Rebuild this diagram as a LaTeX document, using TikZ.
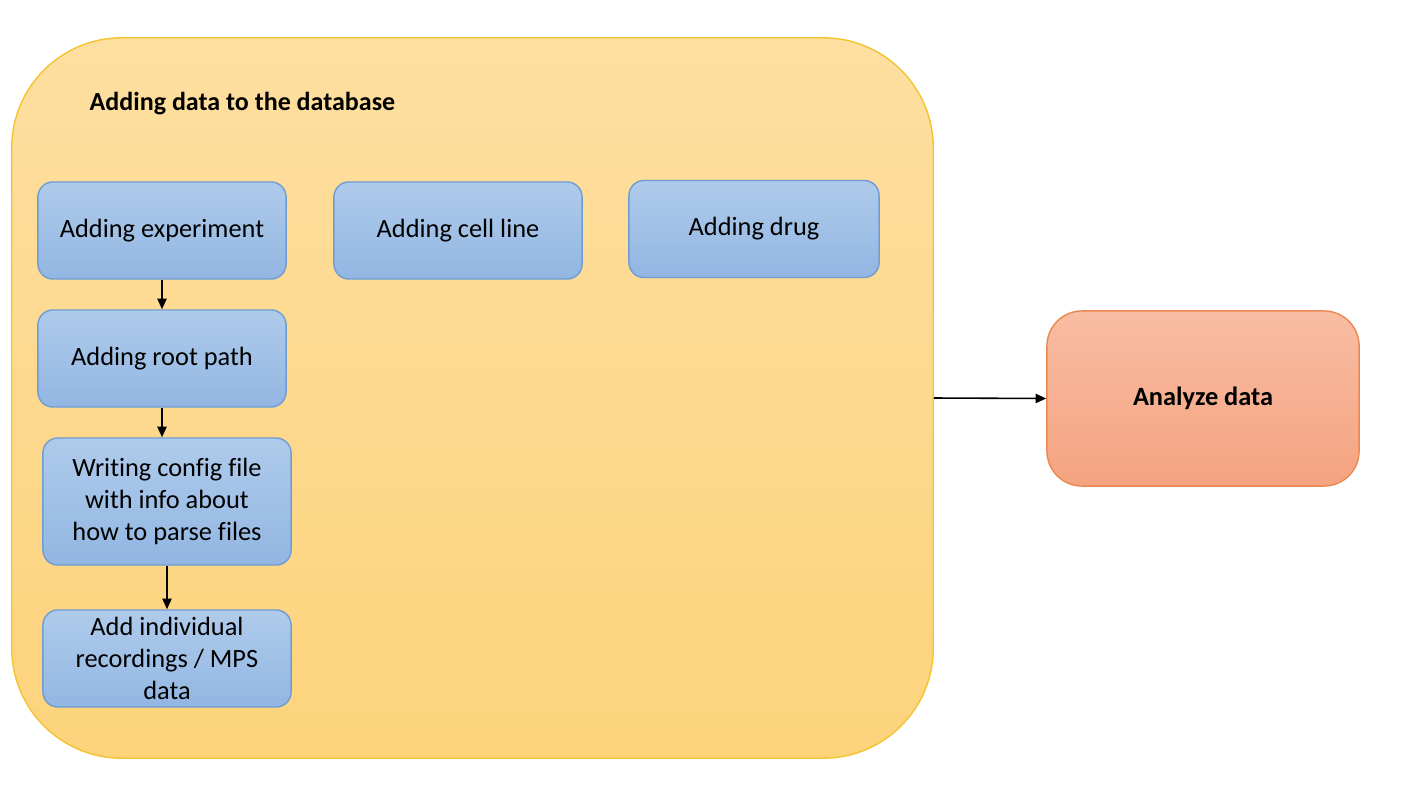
\documentclass[tikz,border=0pt]{standalone}
\usepackage{fontspec}
\setmainfont{Carlito}[Ligatures=NoCommon]
\usetikzlibrary{positioning,arrows.meta}
\definecolor{boxtop}{HTML}{AFCBEB}
\definecolor{boxbot}{HTML}{92B6E2}
\definecolor{boxline}{HTML}{6F9DD3}
\definecolor{dbtop}{HTML}{FDDFA0}
\definecolor{dbbot}{HTML}{FDD37C}
\definecolor{dbline}{HTML}{F4C330}
\definecolor{antop}{HTML}{F8BDA3}
\definecolor{anbot}{HTML}{F5A380}
\definecolor{anline}{HTML}{EA8850}

\begin{document}
\begin{tikzpicture}[x=0.01cm,y=-0.01cm,%
	   database/.style={draw=dbline,top color=dbtop,bottom color=dbbot,rounded corners=1.1cm,
	      minimum width=9.21cm,minimum height=7.2cm,inner sep=0pt},
	   stage/.style={draw=boxline,top color=boxtop,bottom color=boxbot,rounded corners=0.15cm,
	      minimum width=2.48cm,minimum height=0.97cm,align=center,inner sep=1pt,
	      font=\fontsize{7.5}{9}\selectfont},
	   result/.style={draw=anline,top color=antop,bottom color=anbot,rounded corners=0.35cm,
	      minimum width=3.12cm,minimum height=1.75cm,font=\fontsize{7.5}{9}\selectfont\bfseries},
	   flow/.style={-{Triangle[length=3pt,width=2.6pt]},line width=0.45pt,black}]

	\useasboundingbox (0,0) rectangle (1401,788);

	\node[database] (db) at (472.5,398) {};
	\node[anchor=west,inner sep=0pt,font=\fontsize{7.4}{9}\selectfont\bfseries] (title) at (89,104)
	   {Adding data to the database};

	\node[stage] (experiment) at (162,230.5) {Adding experiment};
	\node[stage] (rootpath) at (162,358.5) {Adding root path};
	\node[stage,minimum height=1.27cm] (config) at (167,501.5)
	   {Writing config file\\with info about\\how to parse files};
	\node[stage] (recordings) at (167,658.5) {Add individual\\recordings / MPS\\data};
	\node[stage] (cellline) at (458,230.5) {Adding cell line};
	\node[stage,minimum width=2.5cm] (drug) at (754,229) {Adding drug};

	\node[result] (analyze) at (1203,398.5) {Analyze data};

	\draw[flow] (experiment) -- (rootpath);
	\draw[flow] (rootpath.south) -- (rootpath.south |- config.north);
	\draw[flow] (config) -- (recordings);
	\draw[flow] (db.east) -- (analyze.west);
\end{tikzpicture}
\end{document}
